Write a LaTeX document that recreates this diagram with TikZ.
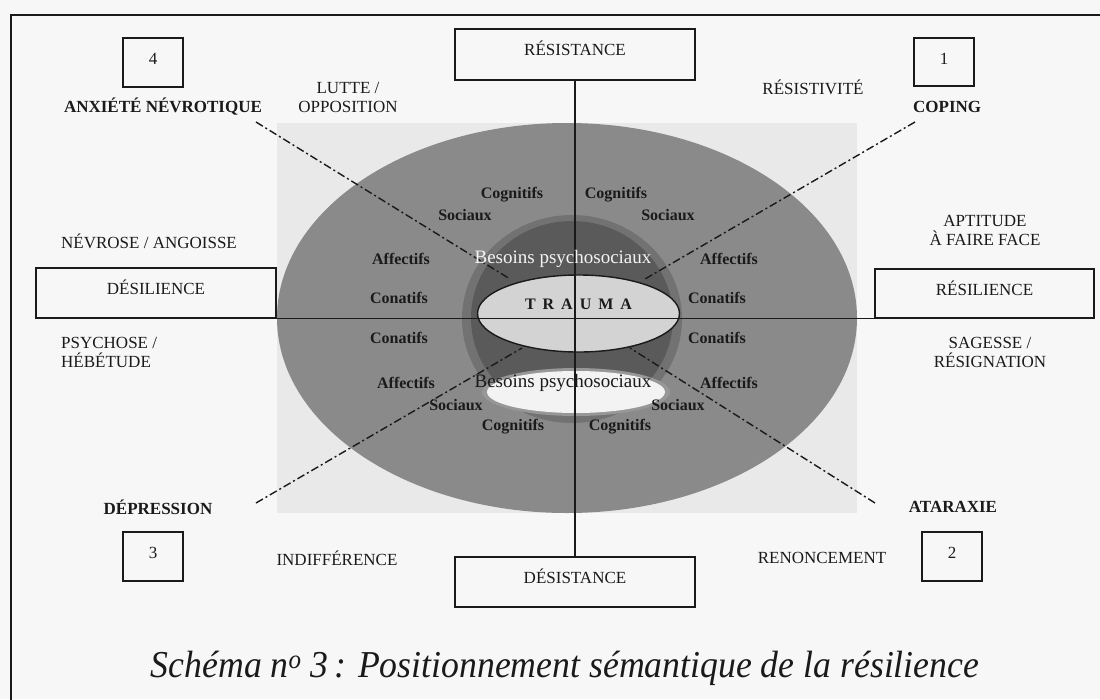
\documentclass[tikz,border=0pt]{standalone}
\usepackage{fontspec}
\setmainfont{Liberation Serif}
\usepackage{graphicx}
\usetikzlibrary{shapes.geometric}
\definecolor{txt}{HTML}{1A1A1A}
\definecolor{pagebg}{HTML}{F7F7F7}
\definecolor{bgrect}{HTML}{E9E9E9}
\definecolor{ringgray}{HTML}{8A8A8A}
\definecolor{darkband}{HTML}{5A5A5A}
\definecolor{traumafill}{HTML}{D3D3D3}
\definecolor{pale}{HTML}{F3F3F3}
\newcommand{\tsp}{\hspace{7pt}}
\begin{document}
\begin{tikzpicture}[x=1pt,y=-1pt,
  lbl/.style={font=\fontsize{17}{19}\selectfont, text=txt, inner sep=0pt},
  lblb/.style={font=\fontsize{17}{19}\selectfont\bfseries, text=txt, inner sep=0pt},
  ringlbl/.style={font=\fontsize{16}{18}\selectfont\bfseries, text=txt, inner sep=0pt},
  boxed/.style={draw=txt, line width=1.4pt, inner sep=0pt, text height=26pt,
    font=\fontsize{17}{19}\selectfont, text=txt},
  ln/.style={draw=txt, line width=1.3pt},
  dd/.style={draw=txt, line width=1.4pt, dash pattern=on 8pt off 3pt on 2pt off 3pt}]
\useasboundingbox (0,0) rectangle (1100,699);
\clip (0,0) rectangle (1100,699);
\fill[pagebg] (0,0) rectangle (1100,699);
% frame
\draw[txt, line width=2pt] (10.5,710) -- (10.5,14.5) -- (1110,14.5);
% background of the ellipse graphic
\fill[bgrect] (277,123) rectangle (857,513);
\fill[ringgray] (567,318) ellipse [x radius=290, y radius=195];
% dark band round the trauma
\fill[darkband!50!ringgray] (572,319) ellipse [x radius=110, y radius=104];
\fill[darkband] (572,318) ellipse [x radius=101, y radius=97];
% pale ellipse below
\fill[pale!40!darkband] (576,392) ellipse [x radius=94, y radius=24];
\fill[pale] (576,392) ellipse [x radius=89, y radius=21];
% boxes
\node[boxed, minimum width=240pt, text depth=25pt] (resist) at (575,54.5) {RÉSISTANCE};
\node[boxed, minimum width=240pt, text depth=24pt] (desist) at (575,582) {DÉSISTANCE};
\node[boxed, minimum width=240pt, text depth=24pt] (desil) at (156,293) {DÉSILIENCE};
\node[boxed, minimum width=219pt, text depth=23pt] (resil) at (984.5,293.5) {RÉSILIENCE};
\node[boxed, minimum width=60pt, text depth=23pt] (b4) at (153,62.5) {4};
\node[boxed, minimum width=60pt, text depth=22pt] (b1) at (944,62) {1};
\node[boxed, minimum width=60pt, text depth=23pt] (b3) at (153,556.5) {3};
\node[boxed, minimum width=60pt, text depth=23pt] (b2) at (952,556.5) {2};
% trauma
\node[ellipse, draw=txt, line width=1.4pt, fill=traumafill, inner sep=0pt,
  minimum width=202pt, minimum height=77pt, text height=5pt, text depth=13.4pt,
  font=\fontsize{16}{18}\selectfont\bfseries, text=txt] (trauma) at (578.5,313.5)
  {T\tsp R\tsp A\tsp U\tsp M\tsp A};
% axes
\draw[ln] (resist.south) -- (desist.north);
\draw[ln] (desil.south east) -- (resil.south west);
% diagonals
\coordinate (tlo) at (256,122);
\coordinate (tli) at (510,279);
\coordinate (tro) at (915,122);
\coordinate (tri) at (645,279);
\coordinate (blo) at (256,503);
\coordinate (bli) at (522,348);
\coordinate (bro) at (875,503);
\coordinate (bri) at (630,348);
\draw[dd] (tlo) -- (tli);
\draw[dd] (tro) -- (tri);
\draw[dd] (blo) -- (bli);
\draw[dd] (bro) -- (bri);
% besoins
\node[font=\fontsize{19}{21}\selectfont, text=pale, inner sep=0pt] (bes1) at (563,259) {Besoins psychosociaux};
\node[font=\fontsize{19}{21}\selectfont, text=txt, inner sep=0pt] (bes2) at (563,383) {Besoins psychosociaux};
% ring labels
\node[ringlbl] (cog1) at (512,195) {Cognitifs};
\node[ringlbl] (cog2) at (616,195) {Cognitifs};
\node[ringlbl] (soc1) at (465,215) {Sociaux};
\node[ringlbl] (soc2) at (668,215) {Sociaux};
\node[ringlbl] (aff1) at (401,259) {Affectifs};
\node[ringlbl] (aff2) at (729,259) {Affectifs};
\node[ringlbl] (con1) at (399,298) {Conatifs};
\node[ringlbl] (con2) at (717,298) {Conatifs};
\node[ringlbl] (con3) at (399,338) {Conatifs};
\node[ringlbl] (con4) at (717,338) {Conatifs};
\node[ringlbl] (aff3) at (406,383) {Affectifs};
\node[ringlbl] (aff4) at (729,383) {Affectifs};
\node[ringlbl] (soc3) at (456,405) {Sociaux};
\node[ringlbl] (soc4) at (678,405) {Sociaux};
\node[ringlbl] (cog3) at (513,427) {Cognitifs};
\node[ringlbl] (cog4) at (620,427) {Cognitifs};
% outer labels
\node[lbl, align=center] (lutte) at (348,97.5) {LUTTE /\\OPPOSITION};
\node[lblb] (anx) at (163,107) {ANXIÉTÉ NÉVROTIQUE};
\node[lbl] (resistiv) at (813,87) {RÉSISTIVITÉ};
\node[lblb, anchor=west] (coping) at (913,107) {COPING};
\node[lbl, anchor=west] (nevrose) at (61,241) {NÉVROSE / ANGOISSE};
\node[lbl, align=center] (aptitude) at (985,230) {APTITUDE\\À FAIRE FACE};
\node[lbl, align=left, anchor=west] (psychose) at (61,352.5) {PSYCHOSE /\\HÉBÉTUDE};
\node[lbl, align=center] (sagesse) at (990,352.5) {SAGESSE /\\RÉSIGNATION};
\node[lblb] (depr) at (158,507) {DÉPRESSION};
\node[lblb] (atar) at (953,507) {ATARAXIE};
\node[lbl] (indiff) at (337,558) {INDIFFÉRENCE};
\node[lbl] (renonc) at (822,558) {RENONCEMENT};
% caption
\node[text=txt, inner sep=0pt] (caption) at (565,668)
  {\scalebox{0.94}[1]{\fontsize{38}{40}\selectfont\itshape Schéma n\textsuperscript{o} 3\,: Positionnement sémantique de la résilience}};
\end{tikzpicture}
\end{document}
